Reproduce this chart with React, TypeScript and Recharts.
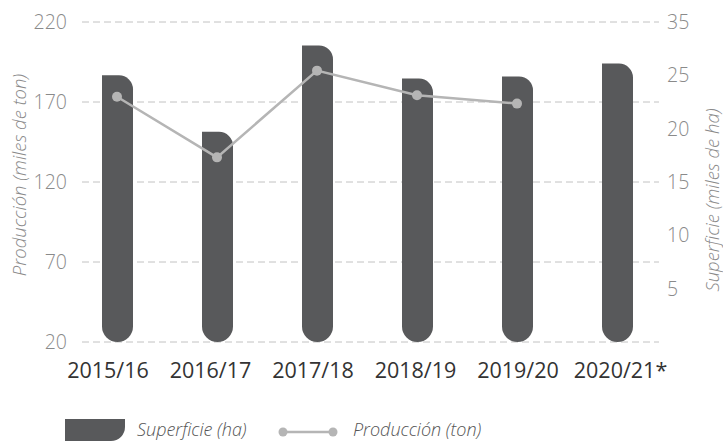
import { ComposedChart, Bar, Line, XAxis, YAxis, CartesianGrid } from "recharts";

const categories = ["2015/16", "2016/17", "2017/18", "2018/19", "2019/20", "2020/21*"];
const superficie = [25.0, 19.7, 27.8, 24.7, 24.9, 26.1];
const produccion: (number | null)[] = [173.3, 135.4, 189.6, 174.2, 169.0, null];
const leftTicks = [20, 70, 120, 170, 220];
const rightTicks = [0, 5, 10, 15, 20, 25, 30];
const rightTickLabels = ["", "5", "10", "15", "20", "25", "35"];

const data = categories.map((c, i) => ({
  name: c,
  superficie: superficie[i],
  produccion: produccion[i],
}));

const BAR = "#58595b";
const LINE = "#b5b5b5";
const AXIS_TEXT = "#8a8a8a";
const FONT = "'Open Sans', sans-serif";

function PillBar(props: any) {
  const { x, y, width, height } = props;
  if (!height || height <= 0) return null;
  const rt = Math.min(14, width / 2);
  const rb = width / 2;
  const d = `M${x},${y} L${x + width - rt},${y} A${rt},${rt} 0 0 1 ${x + width},${y + rt} L${x + width},${y + height - rb} A${rb},${rb} 0 0 1 ${x},${y + height - rb} Z`;
  return <path d={d} fill={BAR} />;
}

// category labels in the original sit on a slightly wider step than the bars
function CategoryTick(props: any) {
  const { x, y, payload, index } = props;
  const dx = -9 + 2.5 * index;
  return (
    <text x={x + dx} y={y} dy="0.71em" textAnchor="middle" fontFamily={FONT} fontSize={21.5} fill="#333">
      {payload.value}
    </text>
  );
}

function Legend() {
  return (
    <svg width={723} height={441} style={{ position: "absolute", left: 0, top: 0, pointerEvents: "none" }}>
      <path d="M65,419 L125,419 L125,427 A14,14 0 0 1 111,441 L65,441 Z" fill={BAR} />
      <line x1={283} y1={432} x2={333} y2={432} stroke={LINE} strokeWidth={2.5} />
      <circle cx={283} cy={432} r={4.5} fill={LINE} />
      <circle cx={333} cy={432} r={4.5} fill={LINE} />
      <text x={137} y={436} fontFamily={FONT} fontStyle="italic" fontWeight={300} fontSize={18} fill="#555">Superficie (ha)</text>
      <text x={353} y={436} fontFamily={FONT} fontStyle="italic" fontWeight={300} fontSize={18} fill="#555">Producción (ton)</text>
    </svg>
  );
}

export default function App() {
  return (
    <div style={{ position: "absolute", left: 0, top: 0, width: 723, height: 441, background: "#fff" }}>
      <ComposedChart width={723} height={441} data={data} margin={{ top: 22, right: 0, bottom: 49, left: 0 }}>
        <CartesianGrid vertical={false} stroke="#c2c2c2" strokeDasharray="7 4" yAxisId="left" />
        <XAxis
          dataKey="name"
          height={50}
          padding={{ left: -15, right: -8 }}
          axisLine={false}
          tickLine={false}
          tickSize={0}
          tickMargin={21}
          interval={0}
          tick={<CategoryTick />}
        />
        <YAxis
          yAxisId="left"
          orientation="left"
          width={82}
          domain={[20, 220]}
          ticks={leftTicks}
          axisLine={false}
          tickLine={false}
          tickSize={0}
          tickMargin={15}
          tick={{ fontFamily: FONT, fontSize: 19.5, fontWeight: 300, fill: AXIS_TEXT }}
          label={{
            content: (p: any) => {
              const vb = p.viewBox;
              const cx = vb.x + 18;
              const cy = 175;
              return (
                <text x={cx} y={cy} transform={`rotate(-90 ${cx} ${cy})`} textAnchor="middle" dominantBaseline="central" fontFamily={FONT} fontStyle="italic" fontWeight={300} fontSize={18.5} fill={AXIS_TEXT}>
                  Producción (miles de ton)
                </text>
              );
            },
          }}
        />
        <YAxis
          yAxisId="right"
          orientation="right"
          width={64}
          domain={[0, 30]}
          ticks={rightTicks}
          tickFormatter={(v: number) => rightTickLabels[rightTicks.indexOf(v)]}
          axisLine={false}
          tickLine={false}
          tickSize={0}
          tickMargin={8}
          tick={{ fontFamily: FONT, fontSize: 19.5, fontWeight: 300, fill: AXIS_TEXT }}
          label={{
            content: (p: any) => {
              const vb = p.viewBox;
              const cx = vb.x + 52;
              const cy = 200;
              return (
                <text x={cx} y={cy} transform={`rotate(-90 ${cx} ${cy})`} textAnchor="middle" dominantBaseline="central" fontFamily={FONT} fontStyle="italic" fontWeight={300} fontSize={18.5} fill={AXIS_TEXT}>
                  Superficie (miles de ha)
                </text>
              );
            },
          }}
        />
        <Bar yAxisId="right" dataKey="superficie" barSize={31} shape={<PillBar />} isAnimationActive={false} />
        <Line
          yAxisId="left"
          dataKey="produccion"
          stroke={LINE}
          strokeWidth={2.5}
          dot={{ r: 5, fill: LINE, stroke: LINE, strokeWidth: 0 }}
          activeDot={false}
          isAnimationActive={false}
        />
      </ComposedChart>
      <Legend />
    </div>
  );
}
